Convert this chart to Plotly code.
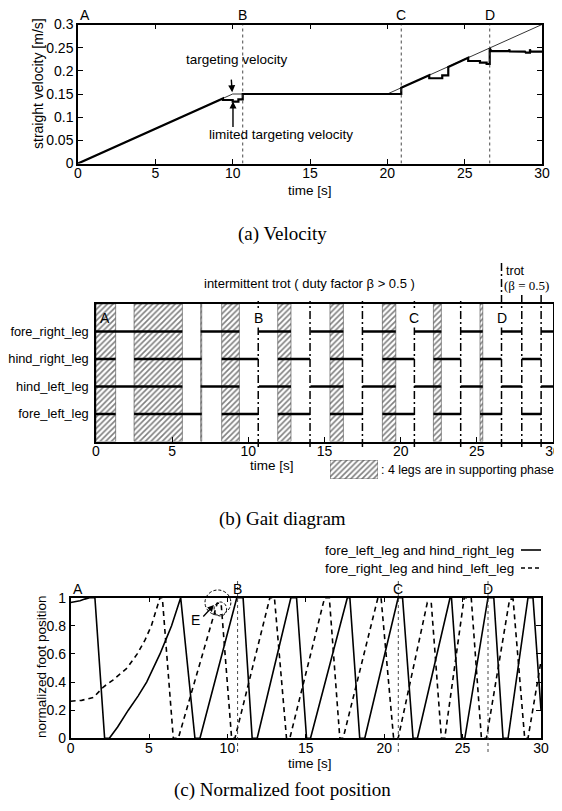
import plotly.graph_objects as go

# window is 562x811; the page body has an 8px margin, so the figure is drawn 8px in.
# Height kept small enough that the page does not overflow vertically.
OFF = 8
W, H = 562 - OFF, 811 - 2 * OFF

# ---------------- data ----------------
event_labels = ["A", "B", "C", "D"]
event_times = [0.0, 10.65, 20.9, 26.62]

# (a) velocity
target_t = [0, 10, 20, 30]
target_v = [0.0, 0.15, 0.15, 0.30]
vel_t = [0, 9.37, 9.37, 10.0, 10.0, 10.37, 10.37, 10.65, 10.65, 16.0, 17.5, 20.9, 20.9,
         22.71, 22.71, 23.55, 23.55, 23.94, 23.94, 25.23, 25.23, 25.99, 25.99, 26.42, 26.42,
         26.62, 26.62, 26.72, 27.88, 27.88, 27.92, 27.92, 28.9, 28.95, 29.22, 29.22, 29.26,
         29.26, 30]
vel_v = [0.0, 0.1405, 0.137, 0.137, 0.1335, 0.1335, 0.1385, 0.1385, 0.150, 0.150, 0.1495,
         0.150, 0.1636, 0.1906, 0.184, 0.184, 0.190, 0.190, 0.2085, 0.2284, 0.2212, 0.2212,
         0.2176, 0.2176, 0.2148, 0.2148, 0.2486, 0.2425, 0.2425, 0.2465, 0.2465, 0.2420,
         0.2415, 0.2395, 0.2395, 0.2465, 0.2465, 0.2415, 0.2415]

# (b) gait diagram
legs = ["fore_right_leg", "hind_right_leg", "hind_left_leg", "fore_left_leg"]
leg_rows = [4, 3, 2, 1]
leg_pair = ["FR_HL", "FL_HR", "FR_HL", "FL_HR"]
stance_FL_HR_start = [0.0, 2.5, 8.25, 11.93, 15.36, 18.8, 22.15, 25.21, 27.95]
stance_FL_HR_end = [1.29, 6.94, 10.65, 14.05, 17.49, 20.9, 23.94, 26.62, 29.22]
stance_FR_HL_start = [0.0, 6.87, 10.7, 14.08, 17.5, 20.9, 23.94, 26.62, 29.22]
stance_FR_HL_end = [5.67, 9.41, 12.8, 16.24, 19.68, 22.67, 25.39, 27.95, 30.0]
dashdot_t = [10.65, 14.05, 17.49, 20.9, 23.94, 26.62, 27.95, 29.22]

# (c) normalized foot position
solid_t = [0, 0.3, 0.6, 0.9, 1.21, 1.55, 2.17, 2.47, 3.0, 3.68, 4.3, 4.85, 5.3, 5.7, 6.07,
           6.44, 7.02, 7.93, 8.25, 10.6, 11.0, 11.58, 11.9, 14.05, 14.41, 15.05, 15.3, 17.65,
           17.81, 18.44, 18.76, 20.89, 21.17, 21.84, 22.12, 24.2, 24.29, 24.93, 25.14, 26.62,
           26.99, 27.58, 27.9, 29.17, 29.49, 30]
solid_y = [0.966, 0.97, 0.978, 0.99, 1.0, 1.0, 0.0, 0.0, 0.08, 0.2, 0.3, 0.4, 0.5, 0.6, 0.7,
           0.8, 1.0, 0.0, 0.0, 1.0, 1.0, 0.0, 0.0, 1.0, 1.0, 0.0, 0.0, 1.0,
           1.0, 0.0, 0.0, 1.0, 1.0, 0.0, 0.0, 1.0, 1.0, 0.0, 0.0, 1.0,
           1.0, 0.0, 0.0, 1.0, 1.0, 0.2]
dashed_t = [0, 0.7, 1.45, 2.09, 2.72, 3.6, 4.25, 4.75, 5.15, 5.45, 5.7, 5.85, 6.55, 6.87,
            9.35, 9.6, 10.27, 10.48, 12.71, 13.0, 13.77, 13.98, 16.2, 16.5, 17.17, 17.38,
            19.6, 19.8, 20.6, 20.89, 22.75, 23.0, 23.65, 23.86, 25.1, 25.55, 26.2, 26.52,
            28.0, 28.22, 28.96, 29.17, 30]
dashed_y = [0.264, 0.27, 0.29, 0.365, 0.416, 0.5, 0.6, 0.7, 0.8, 0.9, 1.0, 1.0, 0.0, 0.0,
            0.96, 0.96, 0.0, 0.0, 1.0, 1.0, 0.0, 0.0, 1.0, 1.0, 0.0, 0.0,
            1.0, 1.0, 0.0, 0.0, 0.965, 0.965, 0.0, 0.0, 1.0, 1.0, 0.0, 0.0,
            0.99, 0.99, 0.0, 0.0, 0.55]

vel_xticks = [0, 5, 10, 15, 20, 25, 30]
vel_yticks = [0, 0.05, 0.1, 0.15, 0.2, 0.25, 0.3]
vel_yticktext = ["0", "0.05", "0.1", "0.15", "0.2", "0.25", "0.3"]
foot_yticks = [0, 0.2, 0.4, 0.6, 0.8, 1.0]
foot_yticktext = ["0", "0.2", "0.4", "0.6", "0.8", "1"]

# ---------------- helpers ----------------
SANS = "Liberation Sans, Arial, sans-serif"
SERIF = "Liberation Serif, Times New Roman, serif"


def px(x):
    return (x - OFF) / W


def py(y):
    return 1 - (y - OFF) / H


fig = go.Figure()

# ---------------- (a) velocity ----------------
fig.add_trace(go.Scatter(x=target_t, y=target_v, mode="lines",
                         line=dict(color="black", width=0.8),
                         xaxis="x", yaxis="y", showlegend=False, hoverinfo="skip"))
fig.add_trace(go.Scatter(x=vel_t, y=vel_v, mode="lines",
                         line=dict(color="black", width=2.2),
                         xaxis="x", yaxis="y", showlegend=False))

# ---------------- (b) gait diagram ----------------
# hatched regions where all 4 legs are in stance (intersection of both pairs)
h_start, h_end = [], []
for s1, e1 in zip(stance_FL_HR_start, stance_FL_HR_end):
    for s2, e2 in zip(stance_FR_HL_start, stance_FR_HL_end):
        s, e = max(s1, s2), min(e1, e2)
        if e - s > 0.02:
            h_start.append(s)
            h_end.append(e)
hatch = dict(shape="/", fgcolor="black", bgcolor="white", size=4, solidity=0.4)
fig.add_trace(go.Bar(
    x=[(s + e) / 2 for s, e in zip(h_start, h_end)],
    width=[e - s for s, e in zip(h_start, h_end)],
    y=[5] * len(h_start), base=[0] * len(h_start),
    marker=dict(color="white", line=dict(color="#444", width=0.6), pattern=hatch),
    xaxis="x2", yaxis="y2", showlegend=False, hoverinfo="skip"))

for name, row, pair in zip(legs, leg_rows, leg_pair):
    if pair == "FR_HL":
        ss, ee = stance_FR_HL_start, stance_FR_HL_end
    else:
        ss, ee = stance_FL_HR_start, stance_FL_HR_end
    xs, ys = [], []
    for s, e in zip(ss, ee):
        xs += [s, e, None]
        ys += [row, row, None]
    fig.add_trace(go.Scatter(x=xs, y=ys, mode="lines",
                             line=dict(color="black", width=2.6),
                             xaxis="x2", yaxis="y2", showlegend=False, name=name))

# legend patch (mini axis)
fig.add_trace(go.Bar(x=[0.5], y=[1], width=[1], base=[0],
                     marker=dict(color="white", line=dict(color="#555", width=0.8),
                                 pattern=hatch),
                     xaxis="x4", yaxis="y4", showlegend=False, hoverinfo="skip"))

# ---------------- (c) normalized foot position ----------------
fig.add_trace(go.Scatter(x=solid_t, y=solid_y, mode="lines",
                         line=dict(color="black", width=1.6),
                         xaxis="x3", yaxis="y3", showlegend=False))
fig.add_trace(go.Scatter(x=dashed_t, y=dashed_y, mode="lines",
                         line=dict(color="black", width=1.6, dash="5px,4px"),
                         xaxis="x3", yaxis="y3", showlegend=False))

# ---------------- axes ----------------
axis_common = dict(showline=True, linecolor="black", linewidth=1.5, mirror="allticks",
                   ticks="inside", ticklen=5, tickcolor="black", tickwidth=1,
                   showgrid=False, zeroline=False, automargin=False,
                   ticklabeloverflow="allow",
                   tickfont=dict(family=SANS, size=14, color="black"))
xstand = dict(ticklabelstandoff=-4)

fig.update_layout(
    xaxis=dict(domain=[px(78), px(542)], range=[0, 30], tickvals=vel_xticks,
               anchor="y", **xstand, **axis_common),
    yaxis=dict(domain=[py(163.5), py(24.5)], range=[0, 0.3], tickvals=vel_yticks,
               ticktext=vel_yticktext, anchor="x", **axis_common),
    xaxis2=dict(domain=[px(96), px(553)], range=[0, 30], tickvals=vel_xticks,
                anchor="y2", **xstand, **{**axis_common, "mirror": True}),
    yaxis2=dict(domain=[py(441.5), py(304)], range=[0, 5], tickvals=leg_rows,
                ticktext=legs, anchor="x2", ticklabelstandoff=3,
                **{**axis_common, "mirror": True, "ticks": "",
                   "tickfont": dict(family=SANS, size=12.8, color="black")}),
    xaxis3=dict(domain=[px(70.6), px(541)], range=[0, 30], tickvals=vel_xticks,
                anchor="y3", **xstand, **axis_common),
    yaxis3=dict(domain=[py(738.3), py(597.7)], range=[0, 1], tickvals=foot_yticks,
                ticktext=foot_yticktext, anchor="x3", **axis_common),
    xaxis4=dict(domain=[px(330), px(378)], range=[0, 1], visible=False, anchor="y4",
                automargin=False),
    yaxis4=dict(domain=[py(479), py(460)], range=[0, 1], visible=False, anchor="x4",
                automargin=False),
    barmode="overlay",
    width=W, height=H,
    margin=dict(l=0, r=0, t=0, b=0, autoexpand=False),
    paper_bgcolor="white", plot_bgcolor="white",
    showlegend=False,
)

# ---------------- event lines ----------------
shapes = []
for t in event_times[1:]:
    # (a)
    shapes.append(dict(type="line", xref="x", yref="y", x0=t, x1=t, y0=0, y1=0.3,
                       line=dict(color="#333", width=0.9, dash="dot")))
    # (c)
    shapes.append(dict(type="line", xref="x3", yref="paper", x0=t, x1=t,
                       y0=py(752), y1=py(581),
                       line=dict(color="#333", width=0.9, dash="dot")))
for t in dashdot_t:
    top = 301
    if abs(t - event_times[3]) < 1e-6:
        top = 260
    elif t > event_times[3]:
        top = 292
    shapes.append(dict(type="line", xref="x2", yref="paper", x0=t, x1=t,
                       y0=py(447), y1=py(top),
                       line=dict(color="black", width=1.5, dash="8px,3px,2px,3px")))

# dashed circles around E in (c)
shapes.append(dict(type="circle", xref="x3", yref="paper", x0=8.57, x1=10.22,
                   y0=py(615), y1=py(590), line=dict(color="black", width=1, dash="3px,2px")))
shapes.append(dict(type="circle", xref="x3", yref="paper", x0=9.15, x1=9.95,
                   y0=py(616), y1=py(602), line=dict(color="black", width=1, dash="3px,2px")))

# legend samples for (c)
shapes.append(dict(type="line", xref="paper", yref="paper", x0=px(521), x1=px(541),
                   y0=py(550), y1=py(550), line=dict(color="black", width=1.6)))
shapes.append(dict(type="line", xref="paper", yref="paper", x0=px(521), x1=px(541),
                   y0=py(568), y1=py(568), line=dict(color="black", width=1.6, dash="4px,3px")))
fig.update_layout(shapes=shapes)

# ---------------- annotations ----------------
ann = []


def text(x, y, s, size=13.5, family=SANS, xanchor="center", angle=0):
    ann.append(dict(x=px(x), y=py(y), xref="paper", yref="paper", text=s, showarrow=False,
                    xanchor=xanchor, yanchor="middle", textangle=angle,
                    font=dict(family=family, size=size, color="black")))


# event letters
for lab, t in zip(event_labels, event_times):
    xa = "left" if lab == "A" else "center"
    ann.append(dict(x=t, y=py(15), xref="x", yref="paper", text=lab, showarrow=False,
                    xanchor=xa, yanchor="middle", font=dict(family=SANS, size=14, color="black")))
    ann.append(dict(x=t, y=py(589), xref="x3", yref="paper", text=lab, showarrow=False,
                    xanchor=xa, yanchor="middle", font=dict(family=SANS, size=14, color="black")))
    ann.append(dict(x=t + (0.1 if lab == "A" else 0), y=py(318), xref="x2", yref="paper",
                    text=lab, showarrow=False, xanchor=xa, yanchor="middle",
                    bgcolor="white" if lab != "A" else None,
                    font=dict(family=SANS, size=14, color="black")))

# (a) texts
text(38, 84, "straight velocity [m/s]", size=14, angle=-90)
text(310, 191, "time [s]")
text(237, 60, "targeting velocity")
text(281, 135, "limited targeting velocity")
text(282, 234, "(a) Velocity", size=19, family=SERIF)
ann.append(dict(x=9.97, y=0.154, xref="x", yref="y", ax=-1, ay=-14, text="",
                showarrow=True, arrowhead=2, arrowsize=1, arrowwidth=1.4, arrowcolor="black"))
ann.append(dict(x=10.02, y=0.134, xref="x", yref="y", ax=0, ay=27, text="",
                showarrow=True, arrowhead=2, arrowsize=1, arrowwidth=1.4, arrowcolor="black"))

# (b) texts
text(309, 284, "intermittent trot ( duty factor β > 0.5 )", size=13)
text(504, 271, "trot", size=12.5, xanchor="left")
text(502, 286, "(β = 0.5)", family=SERIF, size=13, xanchor="left")
text(272, 465, "time [s]")
text(379, 470, ": 4 legs are in supporting phase.", size=12.4, xanchor="left")
text(282, 519, "(b) Gait diagram", size=19, family=SERIF)
ann.append(dict(x=26.2, y=5.33, xref="x2", yref="y2", ax=0.26, ay=5.33, axref="x2",
                ayref="y2", text="", showarrow=True, arrowhead=2, startarrowhead=2,
                arrowside="end+start", arrowsize=1, startarrowsize=1, arrowwidth=1.3,
                arrowcolor="black"))
ann.append(dict(x=29.88, y=5.35, xref="x2", yref="y2", ax=26.77, ay=5.35, axref="x2",
                ayref="y2", text="", showarrow=True, arrowhead=2, startarrowhead=2,
                arrowside="end+start", arrowsize=1, startarrowsize=1, arrowwidth=1.3,
                arrowcolor="black"))

# (c) texts
text(41, 667, "normalized foot position", angle=-90)
text(310, 763, "time [s]")
text(516, 550, "fore_left_leg and hind_right_leg", xanchor="right")
text(516, 568, "fore_right_leg and hind_left_leg", xanchor="right")
text(195, 620, "E", size=14)
ann.append(dict(x=9.14, y=0.948, xref="x3", yref="y3", ax=-12, ay=13, text="",
                showarrow=True, arrowhead=2, arrowsize=1, arrowwidth=1.3, arrowcolor="black"))
text(282, 790, "(c) Normalized foot position", size=19, family=SERIF)

fig.update_layout(annotations=ann)

fig.write_html("out.html")
